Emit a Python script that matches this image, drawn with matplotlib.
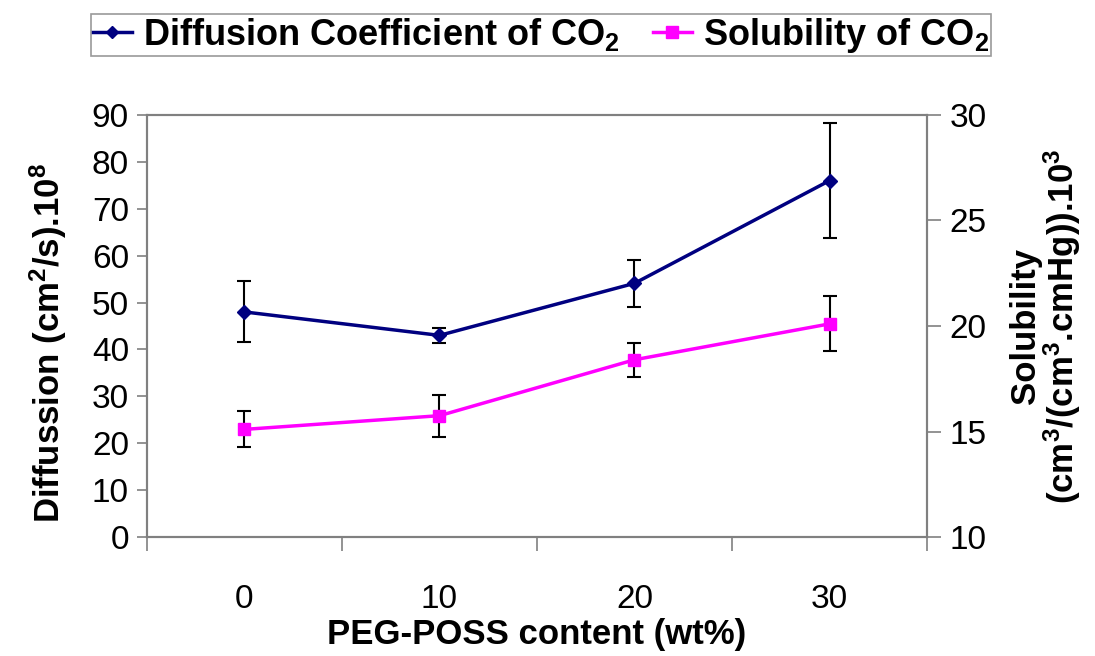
import matplotlib
matplotlib.use("Agg")
import matplotlib.pyplot as plt
from matplotlib.ticker import FixedLocator, NullFormatter
from matplotlib.lines import Line2D

plt.rcParams['font.family'] = ['Liberation Sans', 'DejaVu Sans']
plt.rcParams['mathtext.default'] = 'regular'

categories = ['0', '10', '20', '30']
diffusion = [48.0, 43.0, 54.1, 76.0]
diffusion_err = [6.5, 1.6, 5.0, 12.2]
solubility = [15.1, 15.75, 18.4, 20.1]
solubility_err = [0.85, 1.0, 0.8, 1.3]

fig = plt.figure(figsize=(10.95, 6.56), dpi=100)
ax = fig.add_axes([0.1342, 0.1814, 0.7124, 0.6433])
ax2 = ax.twinx()

x = list(range(len(categories)))
navy = '#000080'
mag = '#FF00FF'
gray = '#808080'

ax.errorbar(x, diffusion, yerr=diffusion_err, color=navy, lw=2.5, marker='D',
            ms=7, ecolor='black', elinewidth=1.5, capsize=5, capthick=1.5,
            zorder=3)
ax2.errorbar(x, solubility, yerr=solubility_err, color=mag, lw=2.5, marker='s',
             ms=9, ecolor='black', elinewidth=1.5, capsize=5, capthick=1.5,
             zorder=3)

ax.set_xlim(-0.5, 3.5)
ax.set_ylim(0, 90)
ax.set_yticks(range(0, 91, 10))
ax2.set_ylim(10, 30)
ax2.set_yticks(range(10, 31, 5))

ax.set_xticks(x)
ax.set_xticklabels(categories)
ax.xaxis.set_minor_locator(FixedLocator([-0.5, 0.5, 1.5, 2.5, 3.5]))
ax.xaxis.set_minor_formatter(NullFormatter())
ax.tick_params(axis='x', which='major', length=0, pad=34, labelsize=24)
ax.tick_params(axis='x', which='minor', length=10, width=1.2, color=gray)
ax.tick_params(axis='y', length=7, width=1.2, color=gray, labelsize=24, pad=6)
ax2.tick_params(axis='y', length=10, width=1.2, color=gray, labelsize=24, pad=6)

for a in (ax, ax2):
    for s in a.spines.values():
        s.set_color(gray)
        s.set_linewidth(1.5)

ax.set_xlabel('PEG-POSS content (wt%)', fontsize=25, fontweight='bold', labelpad=2)
ax.set_ylabel('Diffussion (cm$^2$/s).10$^8$', fontsize=25, fontweight='bold',
              labelpad=18)
ax.yaxis.set_label_coords(-0.1, 0.46)
ax2.set_ylabel('Solubility\n(cm$^3$/(cm$^3$.cmHg)).10$^3$', fontsize=25,
               fontweight='bold', labelpad=16, rotation=90, linespacing=1.0)

handles = [
    Line2D([], [], color=navy, lw=2.5, marker='D', ms=6),
    Line2D([], [], color=mag, lw=2.5, marker='s', ms=8),
]
labels = ['Diffusion Coefficient of CO$_2$', 'Solubility of CO$_2$']
leg = fig.legend(handles, labels, loc='center', bbox_to_anchor=(0.494, 0.9466),
                 ncol=2, frameon=True, fancybox=False, edgecolor=gray,
                 prop={'size': 26, 'weight': 'bold'}, handlelength=1.1,
                 handletextpad=0.3, columnspacing=0.9, borderpad=0.05,
                 borderaxespad=0)
leg.get_frame().set_linewidth(1.2)

fig.savefig('out.png', dpi=100)
